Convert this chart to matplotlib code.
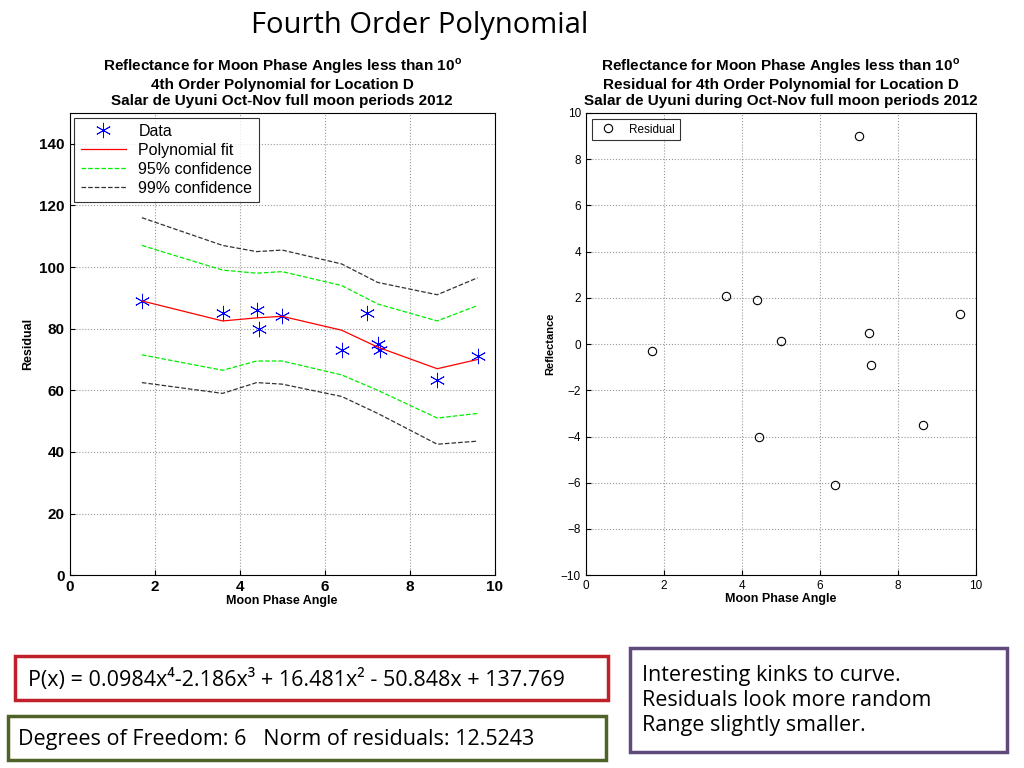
import matplotlib
matplotlib.use("Agg")
import matplotlib.pyplot as plt
from matplotlib.patches import Rectangle
plt.rcParams['font.family'] = ['Liberation Sans', 'DejaVu Sans']
plt.rcParams['mathtext.fontset'] = 'custom'
plt.rcParams['mathtext.bf'] = 'Liberation Sans:bold'

data_x = [1.7, 3.6, 4.4, 4.45, 5.0, 6.4, 7.0, 7.25, 7.3, 8.65, 9.6]
data_y = [89, 85, 86, 80, 84, 73, 85, 75, 73, 63.5, 71]
fit_x = [1.7, 3.6, 4.4, 5.0, 6.4, 7.25, 8.65, 9.6]
fit_y = [89, 82.5, 83.5, 84, 79.5, 74, 67, 70]
c95_up = [107, 99, 98, 98.5, 94, 88, 82.5, 87.5]
c95_lo = [71.5, 66.5, 69.5, 69.5, 65, 60, 51, 52.5]
c99_up = [116, 107, 105, 105.5, 101, 95, 91, 96.5]
c99_lo = [62.5, 59, 62.5, 62, 58, 52.5, 42.5, 43.5]
res_y = [-0.3, 2.1, 1.9, -4.0, 0.15, -6.1, 9.0, 0.5, -0.9, -3.5, 1.3]

fig = plt.figure(figsize=(10.24, 7.68), dpi=100)
fig.text(0.41, 0.967, "Fourth Order Polynomial", ha="center", va="center", fontsize=21, family="Open Sans")

ax = fig.add_axes([0.068, 0.251, 0.415, 0.602])
ax.plot(data_x, data_y, marker=(6, 2, 0), ls="none", color="blue", ms=11, mew=0.6, label="Data")
ax.plot(fit_x, fit_y, "-", color="red", lw=0.9, label="Polynomial fit")
ax.plot(fit_x, c95_up, "--", color="#00ee00", lw=0.9, label="95% confidence")
ax.plot(fit_x, c95_lo, "--", color="#00ee00", lw=0.9)
ax.plot(fit_x, c99_up, "--", color="#333333", lw=0.9, label="99% confidence")
ax.plot(fit_x, c99_lo, "--", color="#333333", lw=0.9)
ax.set_xlim(0, 10); ax.set_ylim(0, 150)
ax.set_xticks([0, 2, 4, 6, 8, 10]); ax.set_yticks(range(0, 141, 20))
ax.grid(True, linestyle=":", color="#999999", lw=0.8)
ax.tick_params(labelsize=11, direction="in")
for t in ax.get_xticklabels() + ax.get_yticklabels():
    t.set_fontweight("bold")
ax.set_xlabel("Moon Phase Angle", fontsize=9, fontweight="bold", labelpad=1)
ax.set_ylabel("Residual", fontsize=9, fontweight="bold")
ax.set_title("Reflectance for Moon Phase Angles less than 10$^{\\mathbf{o}}$\n4th Order Polynomial for Location D\nSalar de Uyuni Oct-Nov full moon periods 2012",
             fontsize=11, fontweight="bold", linespacing=1.15, pad=6)
leg = ax.legend(loc="upper left", fontsize=11.5, fancybox=False, edgecolor="black", borderaxespad=0.3, handlelength=2.8, labelspacing=0.25)
leg.get_frame().set_linewidth(0.8)

ax2 = fig.add_axes([0.572, 0.251, 0.381, 0.602])
ax2.plot(data_x, res_y, "o", color="black", mfc="none", ms=6, mew=0.8, label="Residual")
ax2.set_xlim(0, 10); ax2.set_ylim(-10, 10)
ax2.set_xticks([0, 2, 4, 6, 8, 10]); ax2.set_yticks(range(-10, 11, 2))
ax2.grid(True, linestyle=":", color="#999999", lw=0.8)
ax2.tick_params(labelsize=8.5, direction="in")
ax2.set_xlabel("Moon Phase Angle", fontsize=9, fontweight="bold", labelpad=1)
ax2.set_ylabel("Reflectance", fontsize=8, fontweight="bold")
ax2.set_title("Reflectance for Moon Phase Angles less than 10$^{\\mathbf{o}}$\nResidual for 4th Order Polynomial for Location D\nSalar de Uyuni during Oct-Nov full moon periods 2012",
              fontsize=11, fontweight="bold", linespacing=1.15, pad=6)
leg2 = ax2.legend(loc="upper left", fontsize=8.5, fancybox=False, edgecolor="black", borderaxespad=0.5)
leg2.get_frame().set_linewidth(0.8)

def box(x0, y0, x1, y1, color):
    fig.patches.append(Rectangle((x0/1024, 1-y1/768), (x1-x0)/1024, (y1-y0)/768,
                                 transform=fig.transFigure, fill=False, ec=color, lw=2.5))
box(15, 656, 608, 700, "#c0202a")
fig.text(28/1024, 1-680/768, "P(x) = 0.0984x⁴-2.186x³ + 16.481x² - 50.848x + 137.769", fontsize=15.5, va="center", family="Open Sans")
box(8, 716, 606, 760, "#4f6228")
fig.text(18/1024, 1-740/768, "Degrees of Freedom: 6   Norm of residuals: 12.5243", fontsize=15.5, va="center", family="Open Sans")
box(630, 648, 1007, 752, "#604a7b")
fig.text(642/1024, 1-700/768, "Interesting kinks to curve.\nResiduals look more random\nRange slightly smaller.", fontsize=15.5, va="center", family="Open Sans", linespacing=1.25)

fig.savefig("out.png", dpi=100)
